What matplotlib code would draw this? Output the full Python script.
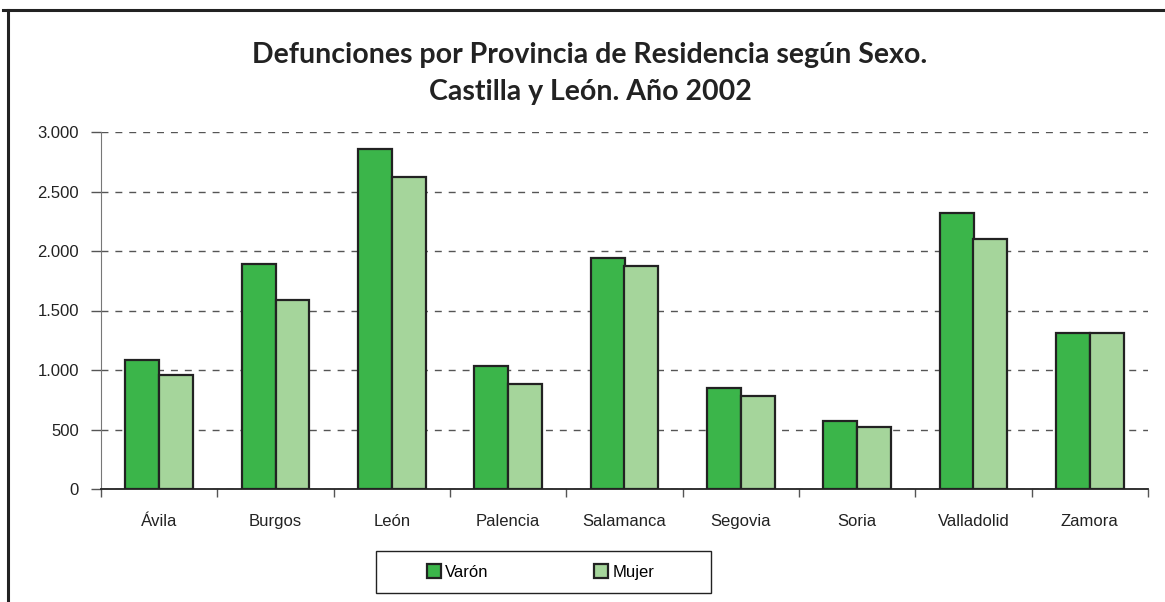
import numpy as np
import matplotlib.pyplot as plt
from matplotlib.lines import Line2D
from matplotlib.patches import Rectangle
from matplotlib.ticker import FuncFormatter

# data
provincias = ["Ávila", "Burgos", "León", "Palencia", "Salamanca",
              "Segovia", "Soria", "Valladolid", "Zamora"]
varon = [1083, 1889, 2861, 1033, 1940, 845, 571, 2320, 1312]
mujer = [955, 1587, 2622, 879, 1872, 778, 521, 2099, 1312]

plt.rcParams['font.family'] = ['Liberation Sans', 'DejaVu Sans']

W, H = 1165, 602
fig = plt.figure(figsize=(W / 100, H / 100), dpi=100)
ax = fig.add_axes([101 / W, 1 - 489 / H, 1047 / W, 357 / H])

x = np.arange(len(provincias))
w = 0.29
ax.bar(x - w / 2, varon, w, color="#3bb54a", edgecolor="#222222", linewidth=1.6,
       label="Varón", zorder=3)
ax.bar(x + w / 2, mujer, w, color="#a5d59b", edgecolor="#222222", linewidth=1.6,
       label="Mujer", zorder=3)

ax.set_xlim(-0.5, len(provincias) - 0.5)
ax.set_ylim(0, 3000)
ax.set_yticks(range(0, 3001, 500))
ax.yaxis.set_major_formatter(FuncFormatter(lambda v, p: f"{int(v):,}".replace(",", ".")))

# category labels at centres, tick marks at the boundaries
ax.set_xticks(x)
ax.set_xticklabels(provincias)
ax.set_xticks(np.arange(-0.5, len(provincias)), minor=True)
ax.tick_params(axis="x", which="major", length=0, pad=18, labelsize=12, colors="#222222")
ax.tick_params(axis="x", which="minor", length=6, width=1, color="#555555", direction="out")
ax.tick_params(axis="y", length=7, width=1, color="#555555", pad=9, labelsize=12,
               labelcolor="#222222")

ax.grid(axis="y", color="#555555", linestyle=(0, (5, 5)), linewidth=1, zorder=0)
for s in ["top", "right"]:
    ax.spines[s].set_visible(False)
ax.spines["left"].set_color("#777777")
ax.spines["bottom"].set_color("#222222")
ax.spines["bottom"].set_linewidth(1.3)

title_font = dict(ha="center", va="baseline", fontsize=20.5, fontweight="bold",
                  color="#222222", family=["Lato", "DejaVu Sans"])
fig.text(590 / W, 1 - 63 / H, "Defunciones por Provincia de Residencia según Sexo.", **title_font)
fig.text(590 / W, 1 - 100 / H, "Castilla y León. Año 2002", **title_font)

# legend box drawn separately, entries placed inside it
fig.add_artist(Rectangle((376 / W, 1 - 593 / H), 335 / W, 42 / H, fill=False,
                         edgecolor="#222222", linewidth=1, transform=fig.transFigure))
leg = fig.legend(loc="center left", bbox_to_anchor=(427 / W, 1 - 572 / H),
                 bbox_transform=fig.transFigure, ncol=2, frameon=False,
                 fontsize=12, handlelength=0.85, handleheight=0.85, handletextpad=0.25,
                 columnspacing=6.3, borderpad=0, borderaxespad=0)

# outer frame (top and left edges visible)
fig.add_artist(Line2D([3 / W, 1.01], [1 - 10 / H, 1 - 10 / H], color="#222222",
                      linewidth=2.2, transform=fig.transFigure))
fig.add_artist(Line2D([8 / W, 8 / W], [1 - 10 / H, -0.01], color="#222222",
                      linewidth=2.2, transform=fig.transFigure))

fig.savefig("out.png", dpi=100)
